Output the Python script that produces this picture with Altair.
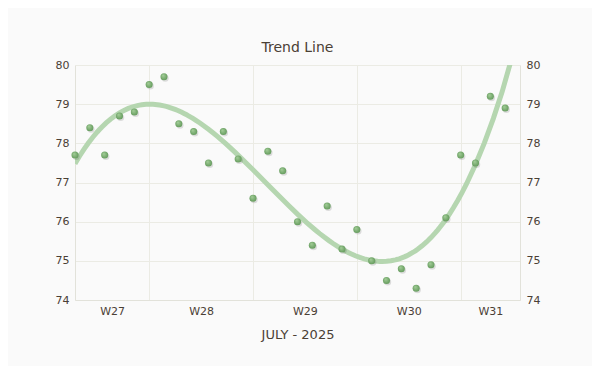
import altair as alt
import pandas as pd

# July 2025 day-of-month for each observation
days = list(range(2, 32))
values = [77.7, 78.4, 77.7, 78.7, 78.8, 79.5, 79.7, 78.5, 78.3, 77.5,
          78.3, 77.6, 76.6, 77.8, 77.3, 76.0, 75.4, 76.4, 75.3, 75.8,
          75.0, 74.5, 74.8, 74.3, 74.9, 76.1, 77.7, 77.5, 79.2, 78.9]
week_starts = [7, 14, 21, 28]          # Mondays (grid lines)
week_label_pos = [4.5, 10.5, 17.5, 24.5, 30]
y_ticks = [74, 75, 76, 77, 78, 79, 80]

df = pd.DataFrame({"day": days, "value": values})

TXT = "#4a4035"
FONT = "DejaVu Sans"

xscale = alt.Scale(domain=[2, 32], nice=False, zero=False)
yscale = alt.Scale(domain=[74, 80], nice=False, zero=False)

base = alt.Chart(df)

trend = base.transform_regression(
    "day", "value", method="poly", order=3, extent=[2, 32]
).mark_line(color="#b5d6b0", strokeWidth=5, clip=True).encode(
    x=alt.X("day:Q", scale=xscale,
            axis=alt.Axis(values=week_starts, labels=False, ticks=False,
                          grid=True, domain=True, title=None, orient="bottom")),
    y=alt.Y("value:Q", scale=yscale,
            axis=alt.Axis(values=y_ticks, ticks=False, grid=True, domain=True,
                          orient="left", title=None, labelPadding=6)),
)

shadow = base.mark_circle(size=50, color="#000000", opacity=0.12,
                          xOffset=1.2, yOffset=1.5).encode(
    x=alt.X("day:Q", scale=xscale, axis=None),
    y=alt.Y("value:Q", scale=yscale, axis=None),
)

points = base.mark_circle(
    size=50, opacity=1,
    fill=alt.Gradient(gradient="radial",
                      stops=[alt.GradientStop(color="#a6d09b", offset=0),
                             alt.GradientStop(color="#5d9556", offset=1)],
                      x1=0.35, y1=0.3, r1=0, x2=0.5, y2=0.5, r2=0.6),
).encode(
    x=alt.X("day:Q", scale=xscale,
            axis=alt.Axis(values=week_label_pos, grid=False, ticks=False,
                          domain=False, labelPadding=5, orient="bottom",
                          labelExpr="'W' + (28 + floor((datum.value - 7) / 7))",
                          title="JULY - 2025", titlePadding=12,
                          titleFontSize=13, titleFontWeight="normal")),
    y=alt.Y("value:Q", scale=yscale,
            axis=alt.Axis(values=y_ticks, ticks=False, grid=False, domain=True,
                          orient="right", title=None, labelPadding=6)),
)

chart = alt.layer(trend, shadow, points).resolve_axis(
    x="independent", y="independent"
).properties(
    width=445, height=235,
    title=alt.TitleParams("Trend Line", fontSize=14, fontWeight="normal",
                          font=FONT, color=TXT, offset=4),
    autosize=alt.AutoSizeParams(type="none"),
    padding={"left": 67, "top": 57, "right": 72, "bottom": 66},
).configure(
    background="#fafafa",
    font=FONT,
).configure_view(
    stroke=None,
).configure_axis(
    labelFont=FONT, titleFont=FONT, labelColor=TXT, titleColor=TXT,
    labelFontSize=11, gridColor="#ebebe4", gridWidth=1,
    domainColor="#e2e2da", domainWidth=1,
)

chart.save("out.html", embed_options={"renderer": "svg", "actions": False})
